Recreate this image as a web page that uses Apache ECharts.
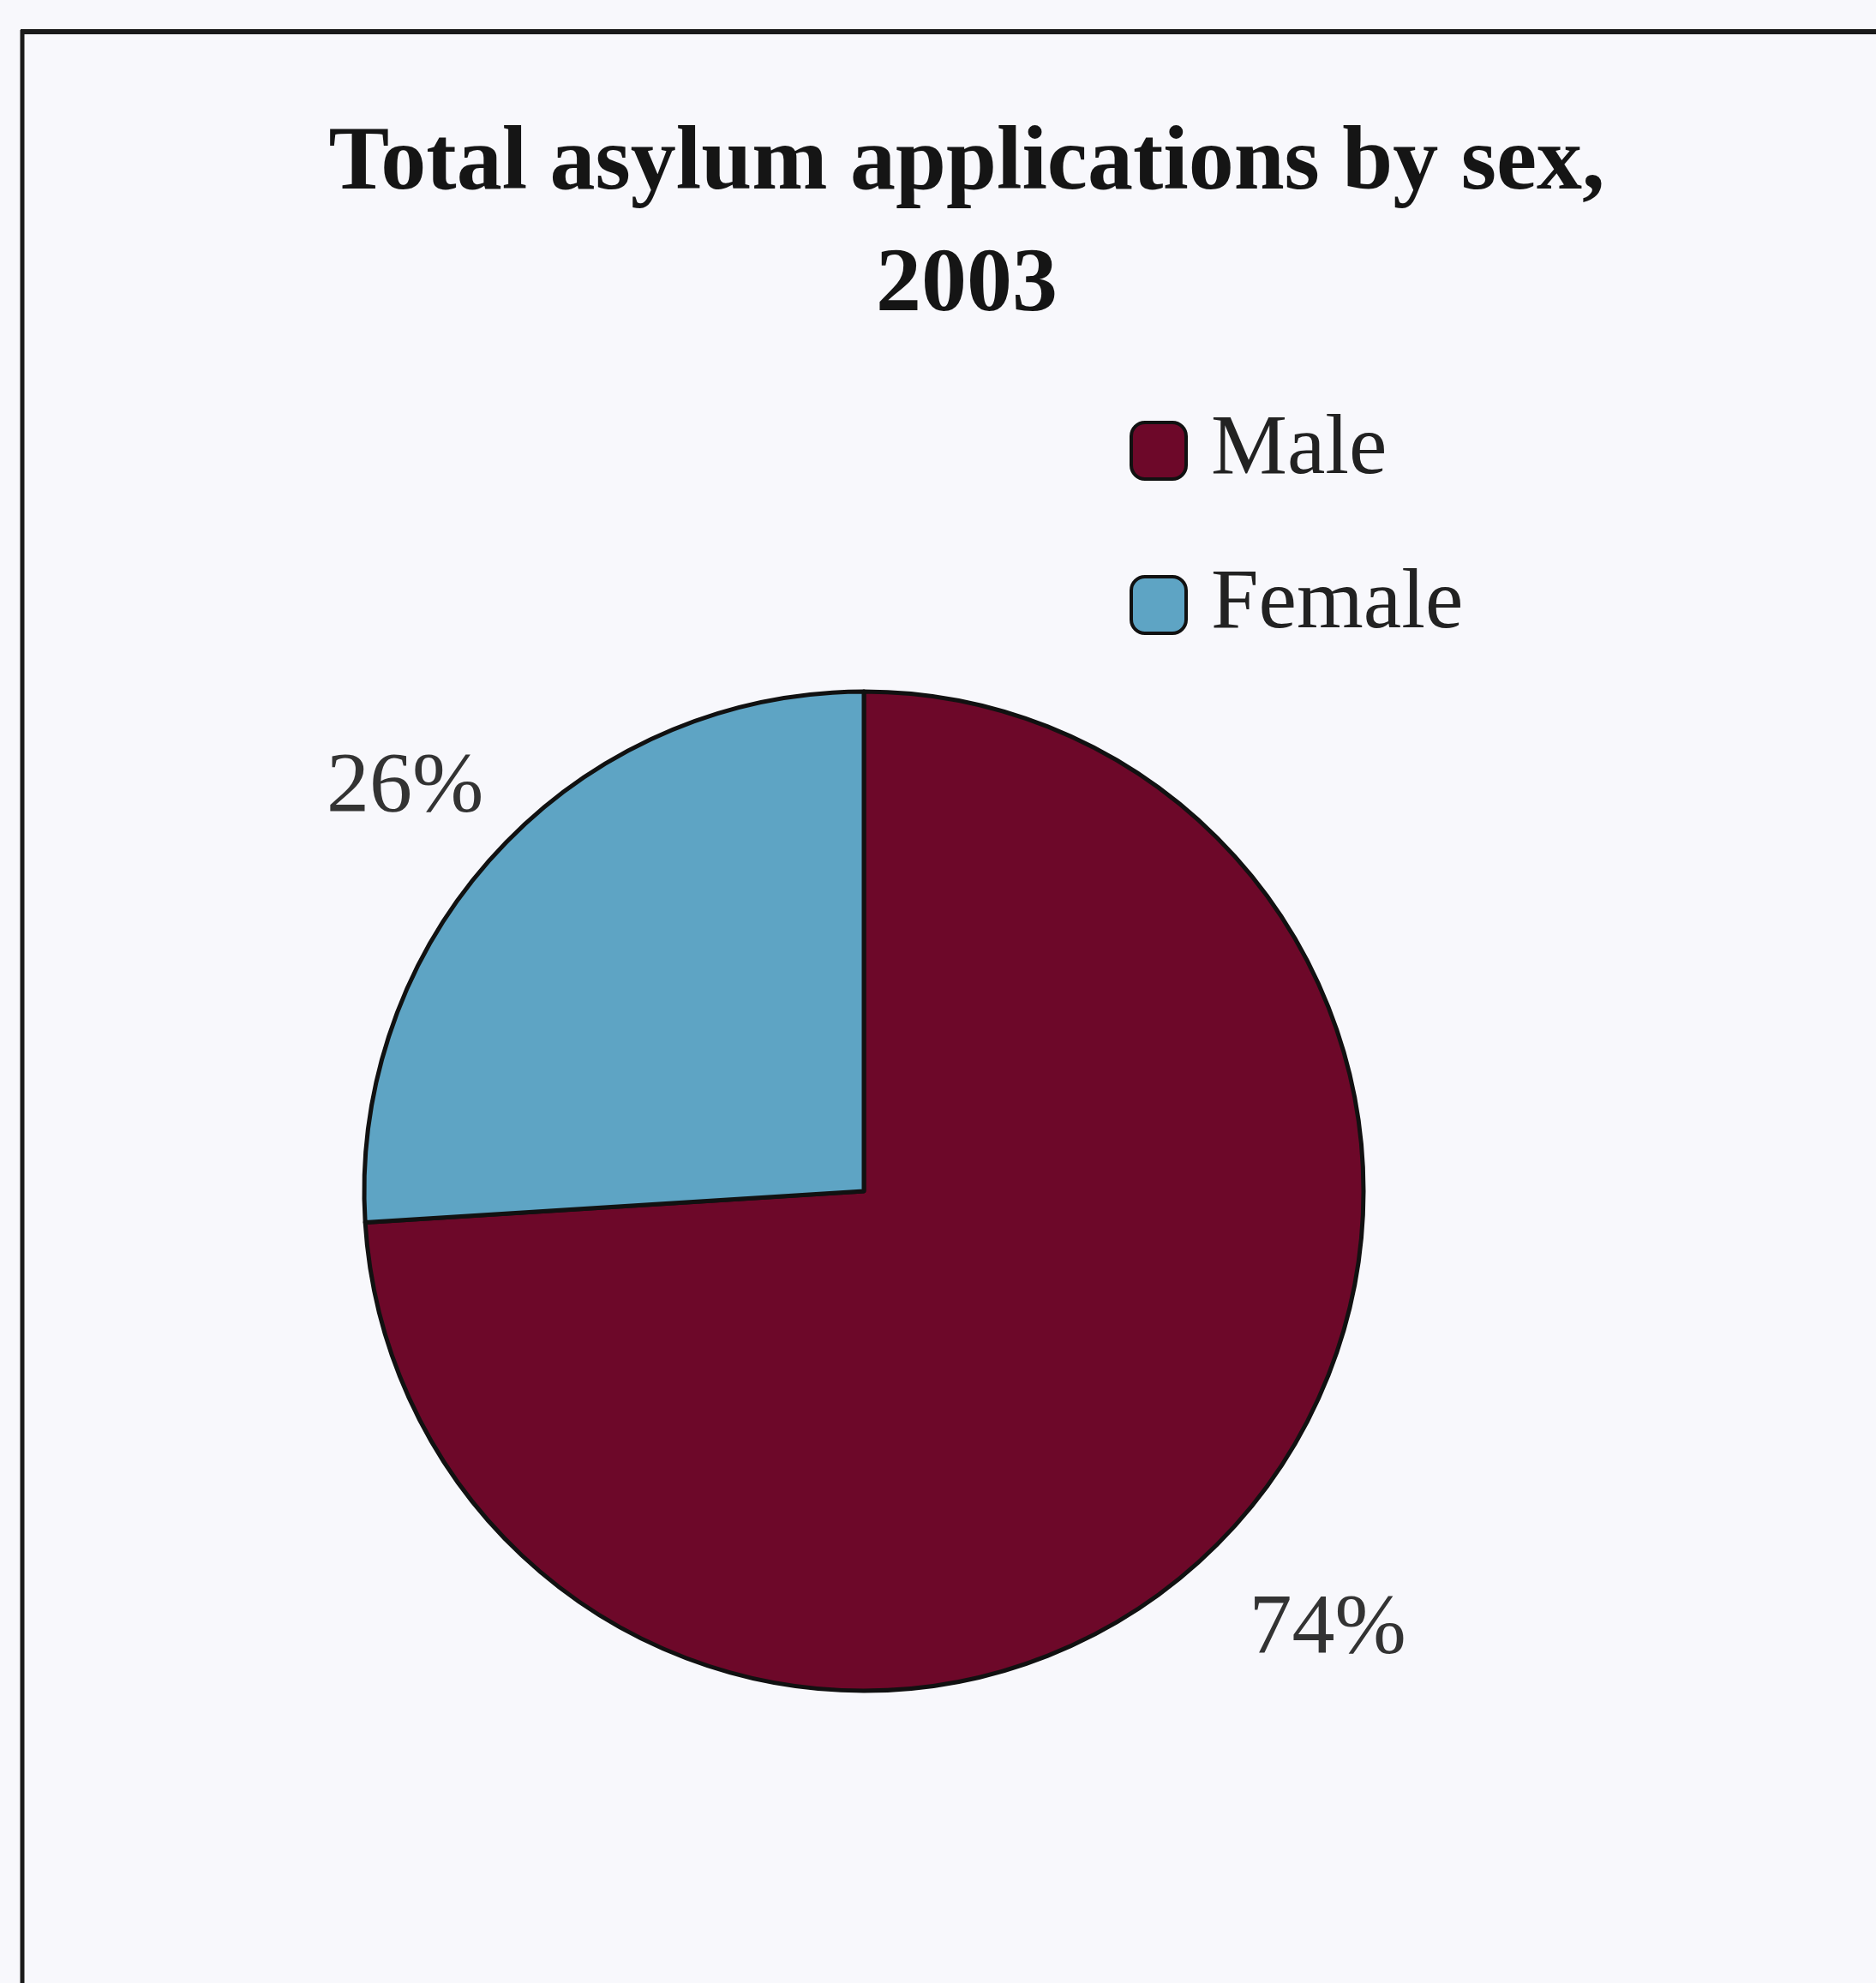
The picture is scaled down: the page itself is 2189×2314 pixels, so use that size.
<!DOCTYPE html>
<html>
<head>
<meta charset="utf-8">
<title>Total asylum applications by sex, 2003</title>
<script src="https://cdn.jsdelivr.net/npm/echarts@6/dist/echarts.min.js"></script>
<style>
  html, body { margin: 0; padding: 0; background: #f8f8fc; }
  #chart { width: 2189px; height: 2314px; }
</style>
</head>
<body>
<div id="chart"></div>
<script>
"use strict";

var titleText = "Total asylum applications by sex,\n2003";
var categories = ["Male", "Female"];
var shares = [74, 26];
var colors = ["#6d0829", "#5ea4c4"];

// per-slice label placement (line is hidden, only used to push labels out)
var labelLen = [164, 104];
var labelLen2 = [-95, -57];

var serif = "'Liberation Serif', 'DejaVu Serif', serif";

var pieData = categories.map(function (name, i) {
  return {
    name: name,
    value: shares[i],
    itemStyle: { color: colors[i] },
    labelLine: { show: false, length: labelLen[i], length2: labelLen2[i] }
  };
});

var chart = echarts.init(document.getElementById("chart"), null, { renderer: "canvas" });

chart.setOption({
  backgroundColor: "#f8f8fc",
  animation: false,
  title: {
    text: titleText,
    left: 1128,
    top: 122,
    padding: 0,
    textAlign: "center",
    textStyle: {
      fontFamily: serif,
      fontWeight: "bold",
      fontSize: 106,
      lineHeight: 142,
      color: "#151515"
    }
  },
  legend: {
    orient: "vertical",
    left: 1318,
    top: 476,
    padding: 0,
    itemWidth: 64,
    itemHeight: 66,
    itemGap: 80,
    icon: "roundRect",
    data: categories,
    itemStyle: { borderColor: "#111", borderWidth: 4 },
    textStyle: {
      fontFamily: serif,
      fontSize: 100,
      lineHeight: 100,
      color: "#222",
      padding: [0, 0, 0, 24]
    }
  },
  graphic: [
    { type: "line", shape: { x1: 24, y1: 37, x2: 2189, y2: 37 }, style: { stroke: "#1a1a1a", lineWidth: 6 } },
    { type: "line", shape: { x1: 26, y1: 35, x2: 26, y2: 2314 }, style: { stroke: "#1a1a1a", lineWidth: 5 } }
  ],
  series: [{
    type: "pie",
    center: [1008, 1390],
    radius: 583,
    startAngle: 90,
    clockwise: true,
    avoidLabelOverlap: false,
    itemStyle: { borderColor: "#111", borderWidth: 5 },
    label: {
      show: true,
      position: "outside",
      formatter: "{d}%",
      distanceToLabelLine: 0,
      fontFamily: serif,
      fontSize: 100,
      color: "#333"
    },
    emphasis: { disabled: true },
    data: pieData
  }]
});
</script>
</body>
</html>
